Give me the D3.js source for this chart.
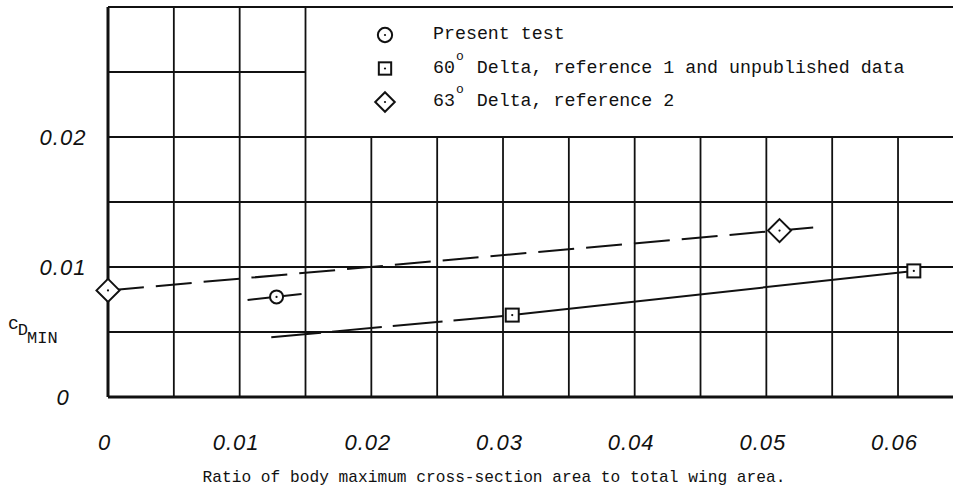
<!DOCTYPE html>
<html>
<head>
<meta charset="utf-8">
<script src="https://cdn.jsdelivr.net/npm/d3@7"></script>
<style>
  body { margin: 0; background: #fff; }
  svg { display: block; }
  .tick line { display: none; }
</style>
</head>
<body>
<div id="chart"></div>
<script>

var width = 953,
    height = 490;

// ticks
var xTicks = [0, 0.01, 0.02, 0.03, 0.04, 0.05, 0.06];
var yTicks = [0, 0.01, 0.02];

// present test
var presentTest = [{x: 0.0128, y: 0.0077}];
var presentFair = [[0.0106, 0.00746], [0.0147, 0.00792]];

// 60 deg delta, ref 1 and unpublished
var delta60 = [{x: 0.0307, y: 0.0063}, {x: 0.0612, y: 0.0097}];
var delta60Dash = [[0.0124, 0.0046], [0.0307, 0.0063]];
var delta60Solid = [[0.0307, 0.0063], [0.0612, 0.0097]];

// 63 deg delta, ref 2
var delta63 = [{x: 0, y: 0.0082}, {x: 0.0510, y: 0.0128}];
var delta63Fair = [[0, 0.0082], [0.0540, 0.01308]];

var legendItems = ["circle", "square", "diamond"];

var x = d3.scaleLinear().domain([0, 0.065]).range([108, 108 + 0.065 * 13167]);
var y = d3.scaleLinear().domain([0, 0.03]).range([397, 7]);

var svg = d3.select("#chart").append("svg")
  .attr("width", width)
  .attr("height", height);

var grid = svg.append("g").attr("stroke", "#111").attr("stroke-width", 1.8);

// legend box covers the grid above 0.02 and right of 0.015
var boxX = 0.015, boxY = 0.02;

d3.range(0, 0.0651, 0.005).forEach(function(v) {
  v = +v.toFixed(3);
  grid.append("line")
    .attr("x1", x(v)).attr("x2", x(v))
    .attr("y1", y(0))
    .attr("y2", v > boxX ? y(boxY) : y(0.03))
    .attr("stroke-width", v === 0 ? 3 : 1.8);
});

d3.range(0, 0.0301, 0.005).forEach(function(v) {
  v = +v.toFixed(3);
  grid.append("line")
    .attr("y1", y(v)).attr("y2", y(v))
    .attr("x1", x(0))
    .attr("x2", (v > boxY && v < 0.03) ? x(boxX) : width)
    .attr("stroke-width", v === 0 ? 3 : 1.8);
});

// axis labels
var xAxis = svg.append("g")
  .attr("transform", "translate(-4," + 442 + ")")
  .call(d3.axisBottom(x).tickValues(xTicks).tickSize(0).tickPadding(0)
    .tickFormat(function(d) { return d === 0 ? "0" : d3.format(".2f")(d); }));
xAxis.select(".domain").remove();

var yAxis = svg.append("g")
  .attr("transform", "translate(" + x(0) + ",0)")
  .call(d3.axisLeft(y).tickValues(yTicks).tickSize(0)
    .tickFormat(function(d) { return d === 0 ? "0" : d3.format(".2f")(d); }));
yAxis.select(".domain").remove();
yAxis.selectAll("text").attr("x", -45).attr("text-anchor", "middle").attr("dy", "0.35em");

svg.selectAll(".tick text")
  .attr("fill", "#111")
  .style("font-family", "'Liberation Sans', Arial, sans-serif")
  .style("font-style", "italic")
  .style("font-size", "22px")
  .style("letter-spacing", "1px");
xAxis.selectAll("text").attr("dy", "0.35em");

// curves
var line = d3.line().x(function(d) { return x(d[0]); }).y(function(d) { return y(d[1]); });

var curves = svg.append("g").attr("fill", "none").attr("stroke", "#111").attr("stroke-width", 2);
curves.append("path").attr("d", line(delta63Fair)).attr("stroke-dasharray", "36,12");
curves.append("path").attr("d", line(delta60Dash)).attr("stroke-dasharray", "50,11");
curves.append("path").attr("d", line(delta60Solid));
curves.append("path").attr("d", line(presentFair));

// markers
function marker(g, type, cx, cy, s) {
  var m = g.append("g").attr("transform", "translate(" + cx + "," + cy + ")");
  if (type === "circle") {
    m.append("circle").attr("r", 6.5 * s);
  } else if (type === "square") {
    m.append("rect").attr("x", -6.5 * s).attr("y", -6.5 * s)
      .attr("width", 13 * s).attr("height", 13 * s);
  } else {
    var r = 11.5 * s;
    m.append("path").attr("d", "M0," + (-r) + "L" + r + ",0L0," + r + "L" + (-r) + ",0Z");
  }
  m.selectAll("circle,rect,path").attr("fill", "#fff").attr("stroke", "#111").attr("stroke-width", 2);
  m.append("circle").attr("r", 1.1).attr("fill", "#111");
}

var marks = svg.append("g");
presentTest.forEach(function(d) { marker(marks, "circle", x(d.x), y(d.y), 1); });
delta60.forEach(function(d) { marker(marks, "square", x(d.x), y(d.y), 1); });
delta63.forEach(function(d) { marker(marks, "diamond", x(d.x), y(d.y), 1); });

// legend
var mono = "'Liberation Mono', 'Courier New', monospace";
var legend = svg.append("g")
  .style("font-family", mono)
  .style("font-size", "18.3px")
  .attr("fill", "#111");

var rows = [
  {label: ["Present test"], s: 1.1},
  {label: ["60", "o", " Delta, reference 1 and unpublished data"], s: 0.95},
  {label: ["63", "o", " Delta, reference 2"], s: 0.85}
];

rows.forEach(function(r, i) {
  var by = 39 + i * 33.5;
  marker(legend, legendItems[i], 385, by - 4, r.s);
  var t = legend.append("text").attr("x", 433).attr("y", by);
  t.append("tspan").text(r.label[0]);
  if (r.label.length > 1) {
    t.append("tspan").attr("dy", -13).attr("dx", 1).style("font-size", "13px").text(r.label[1]);
    t.append("tspan").attr("dy", 13).attr("dx", 2).text(r.label[2]);
  }
});

// y axis title c_D_MIN
var yt = svg.append("text")
  .attr("x", 8).attr("y", 329)
  .attr("fill", "#111")
  .style("font-family", mono)
  .style("font-size", "18px");
yt.append("tspan").text("c");
yt.append("tspan").attr("dy", 6).attr("dx", -1).style("font-size", "17px").text("D");
yt.append("tspan").attr("dy", 8).attr("dx", -1).style("font-size", "17px").text("MIN");

// x axis title
svg.append("text")
  .attr("x", 494).attr("y", 482)
  .attr("text-anchor", "middle")
  .attr("fill", "#111")
  .style("font-family", mono)
  .style("font-size", "16.2px")
  .text("Ratio of body maximum cross-section area to total wing area.");

</script>
</body>
</html>
